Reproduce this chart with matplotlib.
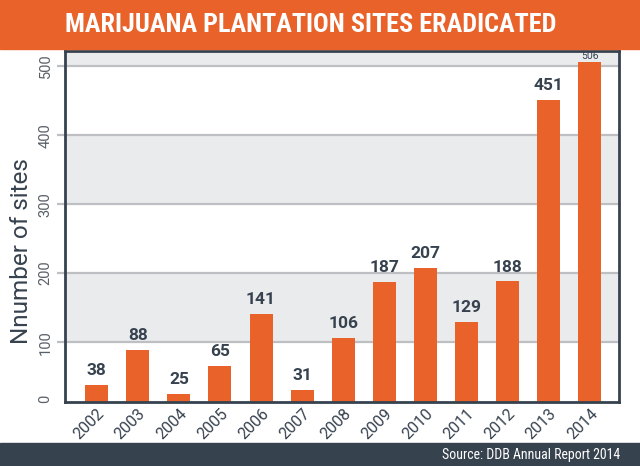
import matplotlib
matplotlib.use("Agg")
import matplotlib.pyplot as plt
from matplotlib import font_manager

# data
years = ["2002", "2003", "2004", "2005", "2006", "2007", "2008",
         "2009", "2010", "2011", "2012", "2013", "2014"]
sites = [38, 88, 25, 65, 141, 31, 106, 187, 207, 129, 188, 451, 506]
ytick_vals = [100, 200, 300, 400, 500]

orange = "#E8622A"
dark = "#37424F"
band = "#EAEBED"
gridc = "#BDBFC2"

names = {f.name for f in font_manager.fontManager.ttflist}
narrow = "Roboto"
for cand in ["Roboto Condensed", "Barlow Condensed", "Liberation Sans Narrow", "Archivo Narrow"]:
    if cand in names:
        narrow = cand
        break
plt.rcParams["font.family"] = ["Roboto", "DejaVu Sans"]

fig = plt.figure(figsize=(6.4, 4.66), dpi=100)
W, H = 640, 466

# title bar and footer
fig.patches.append(plt.Rectangle((0, 1 - 49 / H), 1, 49 / H, transform=fig.transFigure,
                                 color=orange, zorder=0))
fig.patches.append(plt.Rectangle((0, 0), 1, 23 / H, transform=fig.transFigure,
                                 color=dark, zorder=0))
fig.text(65 / W, 1 - 25 / H, "MARIJUANA PLANTATION SITES ERADICATED",
         color="white", fontsize=18.8, fontweight="bold", family=[narrow, "DejaVu Sans"],
         ha="left", va="center")
fig.text(620 / W, 11 / H, "Source: DDB Annual Report 2014", color="white",
         fontsize=10, family=[narrow, "DejaVu Sans"], ha="right", va="center")

ax = fig.add_axes([65 / W, 1 - 401.5 / H, (619 - 65) / W, (401.5 - 51) / H])
x = list(range(len(years)))
ax.set_xlim(-0.77, len(years) - 1 + 0.71)
ax.set_ylim(14, 522)

# alternating bands
for lo in range(100, 600, 200):
    ax.axhspan(lo, lo + 100, color=band, zorder=0, lw=0)
for v in ytick_vals:
    ax.axhline(v, color=gridc, lw=1.6, zorder=1)

ax.bar(x, sites, width=0.56, color=orange, zorder=2)

for xi, v in zip(x, sites):
    if v > 500:
        ax.annotate(str(v), (xi, v), xytext=(0, 0.8), textcoords="offset points",
                    ha="center", va="bottom", fontsize=7.5, color=dark, zorder=5)
    else:
        ax.annotate(str(v), (xi, v), xytext=(0, 5), textcoords="offset points",
                    ha="center", va="bottom", fontsize=12.5, fontweight="bold",
                    color=dark)

ax.set_yticks([18] + ytick_vals, ["0"] + [str(v) for v in ytick_vals])
ax.tick_params(axis="y", length=6, width=1.6, color=gridc, labelsize=10.5,
               labelcolor="#5A6068", pad=3, labelrotation=90)
ax.yaxis.get_major_ticks()[0].tick1line.set_visible(False)
for lab in ax.get_yticklabels():
    lab.set_va("center")

ax.set_xticks(x, years)
ax.tick_params(axis="x", length=0, labelsize=11.5, labelcolor=dark, pad=3)
for lab in ax.get_xticklabels():
    lab.set_rotation(45)
    lab.set_ha("right")
    lab.set_rotation_mode("anchor")

ax.set_ylabel("Nnumber of sites", fontsize=17.5, color=dark)
ax.yaxis.set_label_coords(-0.058, 0.43)

for s in ax.spines.values():
    s.set_color(dark)
    s.set_linewidth(2)
    s.set_zorder(4)

fig.savefig("out.png", dpi=100)
